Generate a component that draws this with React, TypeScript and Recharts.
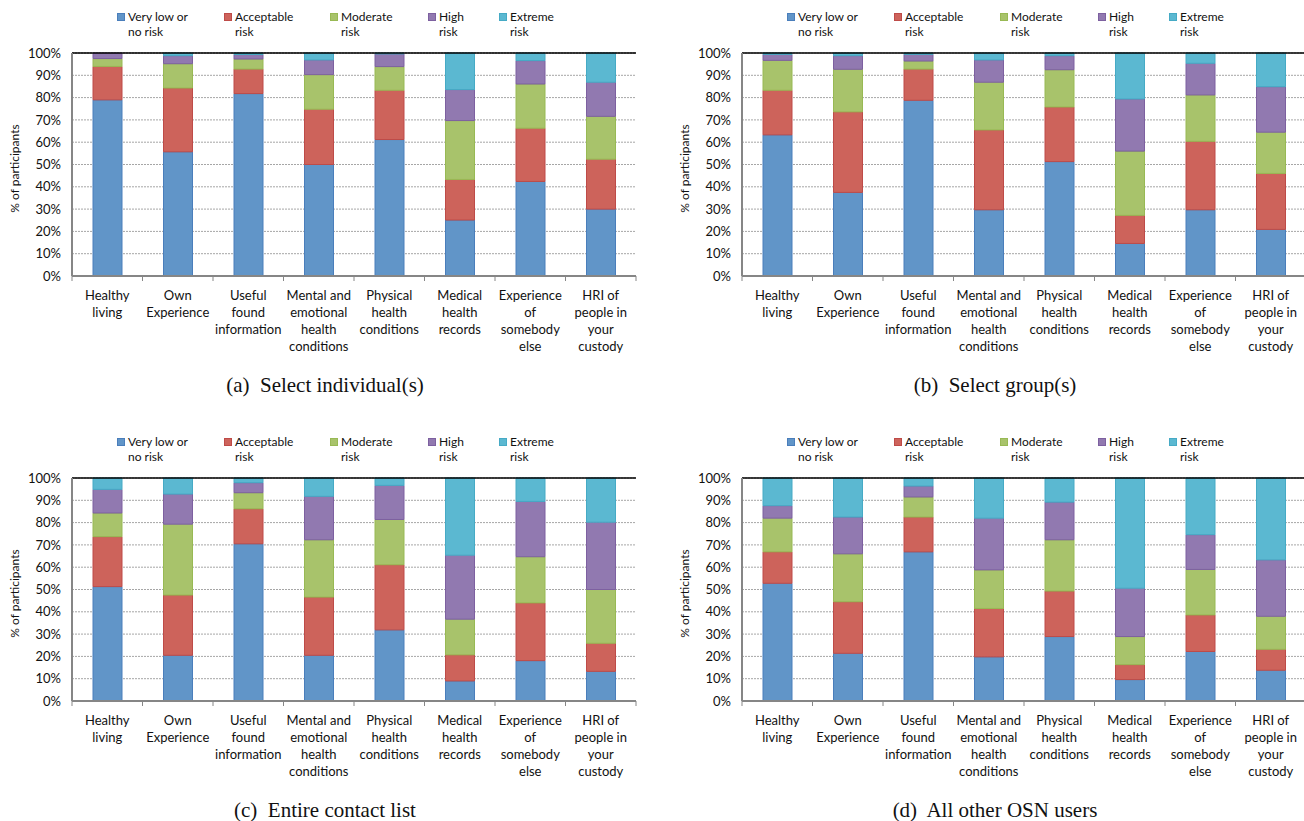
import { BarChart, Bar, XAxis, YAxis, CartesianGrid, Legend, ReferenceLine } from "recharts"

const CATEGORIES = [
  "Healthy\nliving",
  "Own\nExperience",
  "Useful\nfound\ninformation",
  "Mental and\nemotional\nhealth\nconditions",
  "Physical\nhealth\nconditions",
  "Medical\nhealth\nrecords",
  "Experience\nof\nsomebody\nelse",
  "HRI of\npeople in\nyour\ncustody",
]

const SERIES_KEYS = ["veryLow", "acceptable", "moderate", "high", "extreme"]
const SERIES_LABELS = ["Very low or\nno risk", "Acceptable\nrisk", "Moderate\nrisk", "High\nrisk", "Extreme\nrisk"]
const COLORS = ["#6195c8", "#cd635b", "#a8c36b", "#9179b0", "#5bb8d1"]
const BORDERS = ["#4a7ebb", "#be4b48", "#98b954", "#7d60a0", "#46aac5"]

const Y_TICKS = [0, 10, 20, 30, 40, 50, 60, 70, 80, 90, 100]

// (a) Select individual(s)
const indivVeryLow = [79, 55.7, 81.8, 50, 61.2, 25.1, 42.4, 30]
const indivAcceptable = [15, 28.6, 11, 24.8, 22.1, 18.2, 23.9, 22.4]
const indivModerate = [3.5, 10.9, 4.5, 15.5, 10.6, 26.4, 19.8, 19.2]
const indivHigh = [2.5, 3.6, 2, 6.6, 5.7, 13.9, 10.5, 15.3]
const indivExtreme = [0, 1.2, 0.7, 3.1, 0.4, 16.4, 3.4, 13.1]

// (b) Select group(s)
const groupVeryLow = [63.3, 37.5, 78.8, 29.7, 51.3, 14.6, 29.7, 20.9]
const groupAcceptable = [20, 36.1, 14, 35.8, 24.5, 12.6, 30.7, 25.1]
const groupModerate = [13.4, 19.1, 3.6, 21.4, 16.7, 28.8, 20.8, 18.5]
const groupHigh = [2.7, 6.1, 3, 10, 6.3, 23.4, 14.2, 20.4]
const groupExtreme = [0.6, 1.2, 0.6, 3.1, 1.2, 20.6, 4.6, 15.1]

// (c) Entire contact list
const contactsVeryLow = [51.3, 20.5, 70.5, 20.5, 31.9, 9, 18.1, 13.3]
const contactsAcceptable = [22.4, 27, 15.7, 26.1, 29.2, 11.7, 25.9, 12.6]
const contactsModerate = [10.6, 31.8, 7.2, 25.7, 20.3, 16, 20.7, 24.1]
const contactsHigh = [10.6, 13.5, 4.5, 19.5, 15.3, 28.7, 24.8, 30.2]
const contactsExtreme = [5.1, 7.2, 2.1, 8.2, 3.3, 34.6, 10.5, 19.8]

// (d) All other OSN users
const othersVeryLow = [52.8, 21.4, 66.9, 19.8, 28.9, 9.6, 22.2, 13.8]
const othersAcceptable = [14.1, 23.1, 15.6, 21.7, 20.4, 6.7, 16.4, 9.4]
const othersModerate = [15.1, 21.5, 9, 17.3, 23, 12.6, 20.4, 14.8]
const othersHigh = [5.6, 16.5, 4.9, 23.2, 16.9, 21.7, 15.6, 25.3]
const othersExtreme = [12.4, 17.5, 3.6, 18, 10.8, 49.4, 25.4, 36.7]

const FONT = "Lato, 'Open Sans', sans-serif"
const CHART_W = 652
const CHART_H = 365
const AXIS_W = 72
const RIGHT = 16
const BAND = (CHART_W - AXIS_W - RIGHT) / CATEGORIES.length
const LEGEND_X = [117, 224, 330, 428, 499]

function buildRows(series: number[][]) {
  return CATEGORIES.map((name, i) => {
    const row: Record<string, string | number> = { name }
    SERIES_KEYS.forEach((key, s) => {
      row[key] = series[s][i]
    })
    return row
  })
}

const CategoryTick = (props: any) => {
  const { x, y, payload, index } = props
  const lines = String(payload.value).split("\n")
  const edge = x - BAND / 2
  return (
    <g>
      <line x1={edge} x2={edge} y1={y} y2={y + 5} stroke="#868686" strokeWidth={1} />
      {index === CATEGORIES.length - 1 && (
        <line x1={x + BAND / 2} x2={x + BAND / 2} y1={y} y2={y + 5} stroke="#868686" strokeWidth={1} />
      )}
      <text x={x} y={y + 24} textAnchor="middle" fontFamily={FONT} fontSize={13} fill="#111">
        {lines.map((line, i) => (
          <tspan key={i} x={x} dy={i === 0 ? 0 : 17}>
            {line}
          </tspan>
        ))}
      </text>
    </g>
  )
}

const YTitle = (props: any) => {
  const { viewBox } = props
  const cx = viewBox.x + 14
  const cy = viewBox.y + viewBox.height / 2 + 4
  return (
    <text
      x={cx}
      y={cy}
      transform={`rotate(-90, ${cx}, ${cy})`}
      textAnchor="middle"
      dominantBaseline="central"
      fontFamily={FONT}
      fontSize={12}
      fill="#111"
    >
      % of participants
    </text>
  )
}

const RiskLegend = () => (
  <div style={{ position: "relative", width: CHART_W, height: 44, fontFamily: FONT, fontSize: 12, lineHeight: "15px", color: "#111" }}>
    {SERIES_LABELS.map((label, i) => (
      <div key={label} style={{ position: "absolute", left: LEGEND_X[i], top: 9 }}>
        <span
          style={{
            position: "absolute",
            left: 0,
            top: 4,
            width: 8,
            height: 8,
            boxSizing: "border-box",
            background: COLORS[i],
            border: `1px solid ${BORDERS[i]}`,
          }}
        />
        <div style={{ marginLeft: 11, whiteSpace: "pre" }}>{label}</div>
      </div>
    ))}
  </div>
)

function RiskChart({ series, caption, left, top }: { series: number[][]; caption: string; left: number; top: number }) {
  const data = buildRows(series)
  return (
    <div style={{ position: "absolute", left, top, width: CHART_W, height: 400 }}>
      <BarChart width={CHART_W} height={CHART_H} data={data} margin={{ top: 53, right: RIGHT, bottom: 0, left: 0 }} barSize={29}>
        <CartesianGrid vertical={false} stroke="#a6a6a6" strokeDasharray="2 1" />
        <XAxis
          dataKey="name"
          height={CHART_H - 53 - 223}
          interval={0}
          axisLine={{ stroke: "#868686", strokeWidth: 2 }}
          tickLine={false}
          tickSize={0}
          tickMargin={0}
          tick={<CategoryTick />}
        />
        <YAxis
          width={AXIS_W}
          domain={[0, 100]}
          ticks={Y_TICKS}
          interval={0}
          tickFormatter={(v: number) => `${v}%`}
          axisLine={{ stroke: "#868686", strokeWidth: 2 }}
          tickLine={false}
          tickSize={0}
          tickMargin={11}
          tick={{ fontFamily: FONT, fontSize: 13, fill: "#111" }}
          label={<YTitle />}
        />
        <Legend
          content={<RiskLegend />}
          layout="horizontal"
          verticalAlign="middle"
          align="center"
          wrapperStyle={{ top: 0, left: 0, width: CHART_W, height: 44 }}
        />
        {SERIES_KEYS.map((key, i) => (
          <Bar
            key={key}
            dataKey={key}
            name={SERIES_LABELS[i]}
            stackId="risk"
            fill={COLORS[i]}
            stroke={BORDERS[i]}
            strokeWidth={1}
            isAnimationActive={false}
          />
        ))}
        <ReferenceLine y={100} stroke="#000" strokeWidth={1.5} />
      </BarChart>
      <div
        style={{
          position: "absolute",
          left: 0,
          top: 372,
          width: 650,
          textAlign: "center",
          fontFamily: "'Liberation Serif', 'Times New Roman', serif",
          fontSize: 21,
          lineHeight: "26px",
          color: "#111",
          whiteSpace: "pre",
        }}
      >
        {caption}
      </div>
    </div>
  )
}

export default function App() {
  return (
    <div style={{ position: "absolute", left: 0, top: 0, width: 1304, height: 821, overflow: "hidden", background: "#fff" }}>
      <RiskChart
        series={[indivVeryLow, indivAcceptable, indivModerate, indivHigh, indivExtreme]}
        caption="(a)  Select individual(s)"
        left={0}
        top={0}
      />
      <RiskChart
        series={[groupVeryLow, groupAcceptable, groupModerate, groupHigh, groupExtreme]}
        caption="(b)  Select group(s)"
        left={670}
        top={0}
      />
      <RiskChart
        series={[contactsVeryLow, contactsAcceptable, contactsModerate, contactsHigh, contactsExtreme]}
        caption="(c)  Entire contact list"
        left={0}
        top={425}
      />
      <RiskChart
        series={[othersVeryLow, othersAcceptable, othersModerate, othersHigh, othersExtreme]}
        caption="(d)  All other OSN users"
        left={670}
        top={425}
      />
    </div>
  )
}
